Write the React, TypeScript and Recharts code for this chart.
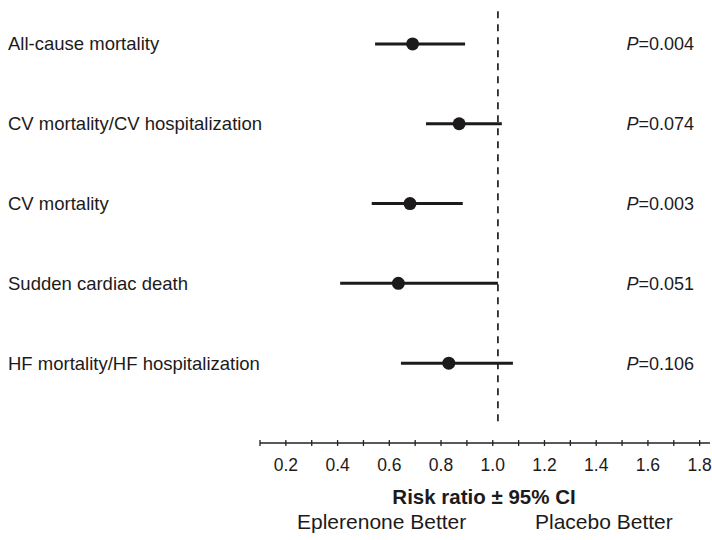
import { ErrorBar, ReferenceLine, Scatter, ScatterChart, XAxis, YAxis } from "recharts";

const outcomes = [
  "All-cause mortality",
  "CV mortality/CV hospitalization",
  "CV mortality",
  "Sudden cardiac death",
  "HF mortality/HF hospitalization",
];
const riskRatio = [0.69, 0.87, 0.68, 0.635, 0.83];
const ciLow = [0.545, 0.742, 0.532, 0.41, 0.645];
const ciHigh = [0.893, 1.035, 0.884, 1.02, 1.078];
const pValues = ["0.004", "0.074", "0.003", "0.051", "0.106"];
const xTicks = [0.1, 0.2, 0.3, 0.4, 0.5, 0.6, 0.7, 0.8, 0.9, 1.0, 1.1, 1.2, 1.3, 1.4, 1.5, 1.6, 1.7, 1.8];
const xLabels = ["0.2", "0.4", "0.6", "0.8", "1.0", "1.2", "1.4", "1.6", "1.8"];

const ink = "#1d1a1b";
const font = "'Liberation Sans', Arial, sans-serif";

const rows = outcomes.map((name, i) => ({
  name,
  row: i,
  hr: riskRatio[i],
  err: [riskRatio[i] - ciLow[i], ciHigh[i] - riskRatio[i]],
}));

function RowTick({ y, payload }: any) {
  const i = payload.value as number;
  return (
    <g>
      <text x={8} y={y} dy={6.5} textAnchor="start" fontSize={18.5} fill={ink} fontFamily={font}>
        {outcomes[i]}
      </text>
      <text x={694} y={y} dy={6.5} textAnchor="end" fontSize={18} fill={ink} fontFamily={font}>
        <tspan fontStyle="italic">P</tspan>={pValues[i]}
      </text>
    </g>
  );
}

function RatioTick({ x, y, payload }: any) {
  const label = payload.value.toFixed(1);
  return (
    <g>
      <line x1={x} x2={x} y1={y - 3} y2={y + 3} stroke="#222" strokeWidth={1.3} />
      {xLabels.includes(label) && (
        <text x={x} y={y + 28} textAnchor="middle" fontSize={17.5} fill={ink} fontFamily={font}>
          {label}
        </text>
      )}
    </g>
  );
}

function Dot({ cx, cy }: any) {
  return <circle cx={cx} cy={cy} r={6.5} fill={ink} />;
}

export default function App() {
  return (
    <div style={{ position: "absolute", left: 0, top: 0, width: 712, height: 540, background: "#fff" }}>
      <ScatterChart width={712} height={540} margin={{ top: 4, right: 2, bottom: 67, left: 0 }}>
        <XAxis
          type="number"
          dataKey="hr"
          domain={[0.1, 1.84]}
          ticks={xTicks}
          interval={0}
          tick={<RatioTick />}
          tickLine={false}
          tickSize={0}
          tickMargin={0}
          height={30}
          axisLine={{ stroke: "#222", strokeWidth: 1.5 }}
          allowDataOverflow
        />
        <YAxis
          type="number"
          dataKey="row"
          domain={[-0.5, 5]}
          ticks={[0, 1, 2, 3, 4]}
          interval={0}
          reversed
          width={260}
          axisLine={false}
          tickLine={false}
          tick={<RowTick />}
        />
        <ReferenceLine
          segment={[
            { x: 1.02, y: -0.41 },
            { x: 1.02, y: 4.8 },
          ]}
          stroke="#000"
          strokeWidth={1.5}
          strokeDasharray="7 6"
        />
        <Scatter data={rows} shape={<Dot />} isAnimationActive={false}>
          <ErrorBar dataKey="err" direction="x" width={0} stroke={ink} strokeWidth={3} isAnimationActive={false} />
        </Scatter>
      </ScatterChart>
      <div
        style={{
          position: "absolute",
          left: 284,
          width: 400,
          top: 485,
          textAlign: "center",
          fontFamily: font,
          fontWeight: "bold",
          fontSize: 20.5,
          color: ink,
        }}
      >
        Risk ratio ± 95% CI
      </div>
      <div style={{ position: "absolute", left: 297, top: 510, fontFamily: font, fontSize: 21, color: ink, whiteSpace: "nowrap" }}>
        Eplerenone Better
      </div>
      <div style={{ position: "absolute", left: 535, top: 510, fontFamily: font, fontSize: 21, color: ink, whiteSpace: "nowrap" }}>
        Placebo Better
      </div>
    </div>
  );
}
